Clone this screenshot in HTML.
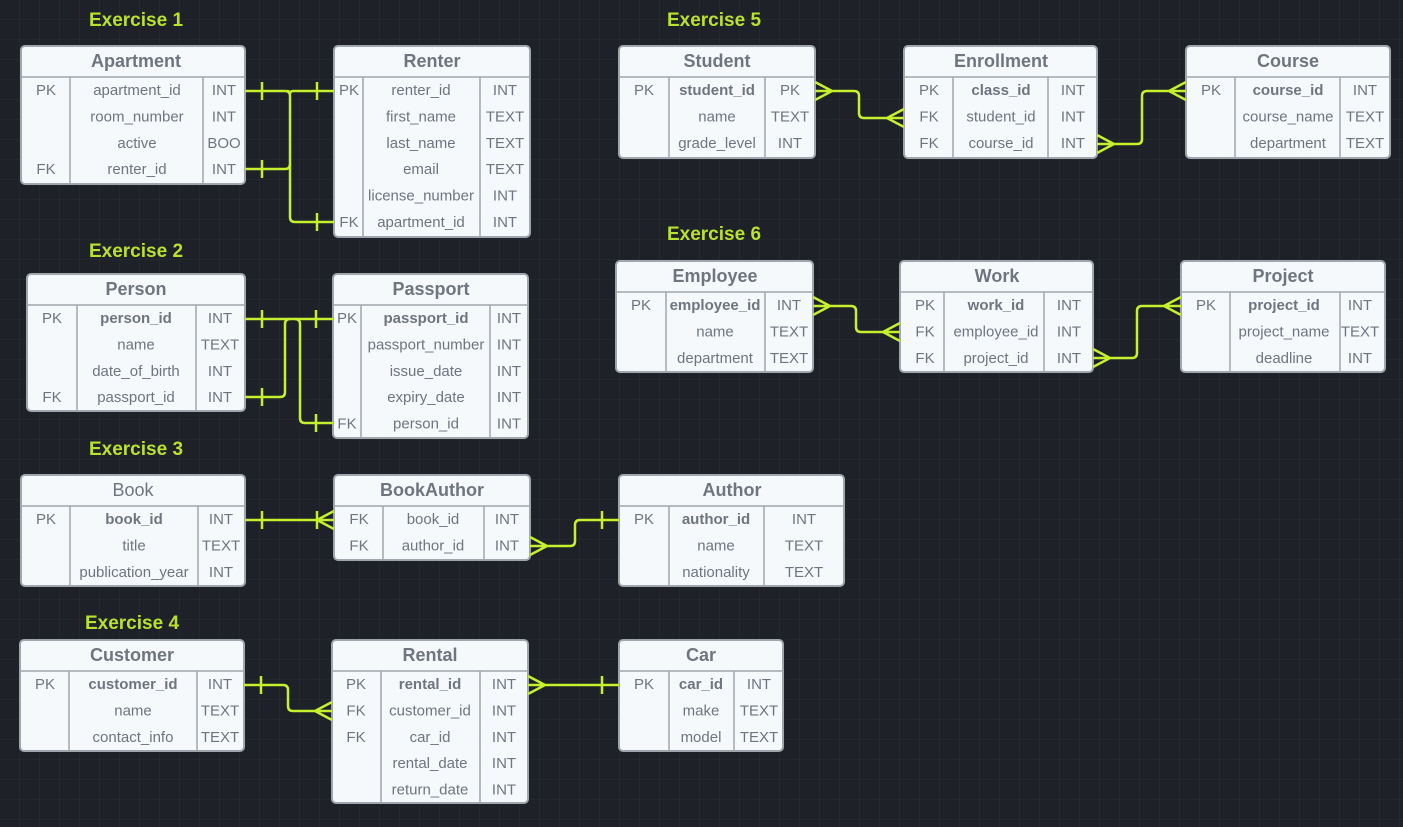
<!DOCTYPE html>
<html><head><meta charset="utf-8"><style>
html,body{margin:0;padding:0;background:#1e2127;}
svg{display:block}
text{font-family:"Liberation Sans",sans-serif;fill:#6e7580;}
.t{font-size:18px;font-weight:bold;text-anchor:middle}
.r{font-size:15px;text-anchor:middle}
.b{font-weight:bold}
.e{font-size:19px;font-weight:bold;fill:#b9e22c;text-anchor:middle}
.box{fill:#f5f9fc;stroke:#a0a6ad;stroke-width:2}
.ln{stroke:#a0a6ad;stroke-width:1.5}
.c{stroke:#c5f02e;stroke-width:2.5;fill:none;stroke-linejoin:round}
</style></head><body>
<svg width="1403" height="827" xmlns="http://www.w3.org/2000/svg">
<defs><pattern id="g" width="20" height="20" patternUnits="userSpaceOnUse"><path d="M20 0V20M0 20H20" stroke="#2a2e35" stroke-width="1" fill="none"/></pattern></defs>
<rect width="1403" height="827" fill="#1e2127"/>
<rect width="1403" height="827" fill="url(#g)"/>

<text class="e" x="136" y="26">Exercise 1</text>
<text class="e" x="136" y="257">Exercise 2</text>
<text class="e" x="136" y="455">Exercise 3</text>
<text class="e" x="132" y="629">Exercise 4</text>
<text class="e" x="714" y="26">Exercise 5</text>
<text class="e" x="714" y="240">Exercise 6</text>

<!-- Apartment -->
<rect class="box" x="21" y="46" width="224" height="138" rx="4"/>
<line class="ln" x1="21" y1="77" x2="245" y2="77"/><line class="ln" x1="70" y1="77" x2="70" y2="184"/><line class="ln" x1="203" y1="77" x2="203" y2="184"/>
<text class="t" x="136" y="67">Apartment</text>
<text class="r" x="46" y="95">PK</text><text class="r" x="137" y="95">apartment_id</text><text class="r" x="224" y="95">INT</text>
<text class="r" x="137" y="121.5">room_number</text><text class="r" x="224" y="121.5">INT</text>
<text class="r" x="137" y="148">active</text><text class="r" x="224" y="148">BOO</text>
<text class="r" x="46" y="174">FK</text><text class="r" x="137" y="174">renter_id</text><text class="r" x="224" y="174">INT</text>

<!-- Renter -->
<rect class="box" x="334" y="46" width="196" height="191" rx="4"/>
<line class="ln" x1="334" y1="77" x2="530" y2="77"/><line class="ln" x1="363" y1="77" x2="363" y2="237"/><line class="ln" x1="480" y1="77" x2="480" y2="237"/>
<text class="t" x="432" y="67">Renter</text>
<text class="r" x="349" y="95">PK</text><text class="r" x="421" y="95">renter_id</text><text class="r" x="505" y="95">INT</text>
<text class="r" x="421" y="121.5">first_name</text><text class="r" x="505" y="121.5">TEXT</text>
<text class="r" x="421" y="148">last_name</text><text class="r" x="505" y="148">TEXT</text>
<text class="r" x="421" y="174">email</text><text class="r" x="505" y="174">TEXT</text>
<text class="r" x="421" y="200.5">license_number</text><text class="r" x="505" y="200.5">INT</text>
<text class="r" x="349" y="227">FK</text><text class="r" x="421" y="227">apartment_id</text><text class="r" x="505" y="227">INT</text>

<!-- Person -->
<rect class="box" x="27" y="274" width="218" height="137" rx="4"/>
<line class="ln" x1="27" y1="305" x2="245" y2="305"/><line class="ln" x1="77" y1="305" x2="77" y2="411"/><line class="ln" x1="196" y1="305" x2="196" y2="411"/>
<text class="t" x="136" y="295">Person</text>
<text class="r" x="52" y="323">PK</text><text class="r b" x="136" y="323">person_id</text><text class="r" x="220" y="323">INT</text>
<text class="r" x="136" y="349.5">name</text><text class="r" x="220" y="349.5">TEXT</text>
<text class="r" x="136" y="376">date_of_birth</text><text class="r" x="220" y="376">INT</text>
<text class="r" x="52" y="402">FK</text><text class="r" x="136" y="402">passport_id</text><text class="r" x="220" y="402">INT</text>

<!-- Passport -->
<rect class="box" x="333" y="274" width="195" height="164" rx="4"/>
<line class="ln" x1="333" y1="305" x2="528" y2="305"/><line class="ln" x1="361" y1="305" x2="361" y2="438"/><line class="ln" x1="490" y1="305" x2="490" y2="438"/>
<text class="t" x="431" y="295">Passport</text>
<text class="r" x="347" y="323">PK</text><text class="r b" x="426" y="323">passport_id</text><text class="r" x="509" y="323">INT</text>
<text class="r" x="426" y="349.5">passport_number</text><text class="r" x="509" y="349.5">INT</text>
<text class="r" x="426" y="376">issue_date</text><text class="r" x="509" y="376">INT</text>
<text class="r" x="426" y="402">expiry_date</text><text class="r" x="509" y="402">INT</text>
<text class="r" x="347" y="428.5">FK</text><text class="r" x="426" y="428.5">person_id</text><text class="r" x="509" y="428.5">INT</text>

<!-- Book -->
<rect class="box" x="21" y="475" width="224" height="111" rx="4"/>
<line class="ln" x1="21" y1="506" x2="245" y2="506"/><line class="ln" x1="70" y1="506" x2="70" y2="586"/><line class="ln" x1="198" y1="506" x2="198" y2="586"/>
<text class="t" x="133" y="496" style="font-weight:normal">Book</text>
<text class="r" x="46" y="524">PK</text><text class="r b" x="134" y="524">book_id</text><text class="r" x="221" y="524">INT</text>
<text class="r" x="134" y="550.5">title</text><text class="r" x="221" y="550.5">TEXT</text>
<text class="r" x="134" y="577">publication_year</text><text class="r" x="221" y="577">INT</text>

<!-- BookAuthor -->
<rect class="box" x="334" y="475" width="196" height="85" rx="4"/>
<line class="ln" x1="334" y1="506" x2="530" y2="506"/><line class="ln" x1="383" y1="506" x2="383" y2="560"/><line class="ln" x1="484" y1="506" x2="484" y2="560"/>
<text class="t" x="432" y="496">BookAuthor</text>
<text class="r" x="359" y="524">FK</text><text class="r" x="433" y="524">book_id</text><text class="r" x="507" y="524">INT</text>
<text class="r" x="359" y="550.5">FK</text><text class="r" x="433" y="550.5">author_id</text><text class="r" x="507" y="550.5">INT</text>

<!-- Author -->
<rect class="box" x="619" y="475" width="225" height="111" rx="4"/>
<line class="ln" x1="619" y1="506" x2="844" y2="506"/><line class="ln" x1="669" y1="506" x2="669" y2="586"/><line class="ln" x1="764" y1="506" x2="764" y2="586"/>
<text class="t" x="732" y="496">Author</text>
<text class="r" x="644" y="524">PK</text><text class="r b" x="716" y="524">author_id</text><text class="r" x="804" y="524">INT</text>
<text class="r" x="716" y="550.5">name</text><text class="r" x="804" y="550.5">TEXT</text>
<text class="r" x="716" y="577">nationality</text><text class="r" x="804" y="577">TEXT</text>

<!-- Customer -->
<rect class="box" x="20" y="640" width="224" height="111" rx="4"/>
<line class="ln" x1="20" y1="671" x2="244" y2="671"/><line class="ln" x1="69" y1="671" x2="69" y2="751"/><line class="ln" x1="197" y1="671" x2="197" y2="751"/>
<text class="t" x="132" y="661">Customer</text>
<text class="r" x="45" y="689">PK</text><text class="r b" x="133" y="689">customer_id</text><text class="r" x="220" y="689">INT</text>
<text class="r" x="133" y="715.5">name</text><text class="r" x="220" y="715.5">TEXT</text>
<text class="r" x="133" y="742">contact_info</text><text class="r" x="220" y="742">TEXT</text>

<!-- Rental -->
<rect class="box" x="332" y="640" width="196" height="163" rx="4"/>
<line class="ln" x1="332" y1="671" x2="528" y2="671"/><line class="ln" x1="381" y1="671" x2="381" y2="803"/><line class="ln" x1="480" y1="671" x2="480" y2="803"/>
<text class="t" x="430" y="661">Rental</text>
<text class="r" x="356" y="689">PK</text><text class="r b" x="430" y="689">rental_id</text><text class="r" x="504" y="689">INT</text>
<text class="r" x="356" y="715.5">FK</text><text class="r" x="430" y="715.5">customer_id</text><text class="r" x="504" y="715.5">INT</text>
<text class="r" x="356" y="742">FK</text><text class="r" x="430" y="742">car_id</text><text class="r" x="504" y="742">INT</text>
<text class="r" x="430" y="768">rental_date</text><text class="r" x="504" y="768">INT</text>
<text class="r" x="430" y="794.5">return_date</text><text class="r" x="504" y="794.5">INT</text>

<!-- Car -->
<rect class="box" x="619" y="640" width="164" height="111" rx="4"/>
<line class="ln" x1="619" y1="671" x2="783" y2="671"/><line class="ln" x1="669" y1="671" x2="669" y2="751"/><line class="ln" x1="734" y1="671" x2="734" y2="751"/>
<text class="t" x="701" y="661">Car</text>
<text class="r" x="644" y="689">PK</text><text class="r b" x="701" y="689">car_id</text><text class="r" x="759" y="689">INT</text>
<text class="r" x="701" y="715.5">make</text><text class="r" x="759" y="715.5">TEXT</text>
<text class="r" x="701" y="742">model</text><text class="r" x="759" y="742">TEXT</text>

<!-- Student -->
<rect class="box" x="619" y="46" width="196" height="112" rx="4"/>
<line class="ln" x1="619" y1="77" x2="815" y2="77"/><line class="ln" x1="669" y1="77" x2="669" y2="158"/><line class="ln" x1="765" y1="77" x2="765" y2="158"/>
<text class="t" x="717" y="67">Student</text>
<text class="r" x="644" y="95">PK</text><text class="r b" x="717" y="95">student_id</text><text class="r" x="790" y="95">PK</text>
<text class="r" x="717" y="121.5">name</text><text class="r" x="790" y="121.5">TEXT</text>
<text class="r" x="717" y="148">grade_level</text><text class="r" x="790" y="148">INT</text>

<!-- Enrollment -->
<rect class="box" x="904" y="46" width="193" height="112" rx="4"/>
<line class="ln" x1="904" y1="77" x2="1097" y2="77"/><line class="ln" x1="953" y1="77" x2="953" y2="158"/><line class="ln" x1="1048" y1="77" x2="1048" y2="158"/>
<text class="t" x="1001" y="67">Enrollment</text>
<text class="r" x="929" y="95">PK</text><text class="r b" x="1001" y="95">class_id</text><text class="r" x="1073" y="95">INT</text>
<text class="r" x="929" y="121.5">FK</text><text class="r" x="1001" y="121.5">student_id</text><text class="r" x="1073" y="121.5">INT</text>
<text class="r" x="929" y="148">FK</text><text class="r" x="1001" y="148">course_id</text><text class="r" x="1073" y="148">INT</text>

<!-- Course -->
<rect class="box" x="1186" y="46" width="204" height="112" rx="4"/>
<line class="ln" x1="1186" y1="77" x2="1390" y2="77"/><line class="ln" x1="1235" y1="77" x2="1235" y2="158"/><line class="ln" x1="1340" y1="77" x2="1340" y2="158"/>
<text class="t" x="1288" y="67">Course</text>
<text class="r" x="1211" y="95">PK</text><text class="r b" x="1288" y="95">course_id</text><text class="r" x="1365" y="95">INT</text>
<text class="r" x="1288" y="121.5">course_name</text><text class="r" x="1365" y="121.5">TEXT</text>
<text class="r" x="1288" y="148">department</text><text class="r" x="1365" y="148">TEXT</text>

<!-- Employee -->
<rect class="box" x="616" y="261" width="197" height="111" rx="4"/>
<line class="ln" x1="616" y1="292" x2="813" y2="292"/><line class="ln" x1="666" y1="292" x2="666" y2="372"/><line class="ln" x1="765" y1="292" x2="765" y2="372"/>
<text class="t" x="715" y="282">Employee</text>
<text class="r" x="641" y="310">PK</text><text class="r b" x="715" y="310">employee_id</text><text class="r" x="789" y="310">INT</text>
<text class="r" x="715" y="336.5">name</text><text class="r" x="789" y="336.5">TEXT</text>
<text class="r" x="715" y="363">department</text><text class="r" x="789" y="363">TEXT</text>

<!-- Work -->
<rect class="box" x="900" y="261" width="193" height="111" rx="4"/>
<line class="ln" x1="900" y1="292" x2="1093" y2="292"/><line class="ln" x1="944" y1="292" x2="944" y2="372"/><line class="ln" x1="1044" y1="292" x2="1044" y2="372"/>
<text class="t" x="997" y="282">Work</text>
<text class="r" x="925" y="310">PK</text><text class="r b" x="996" y="310">work_id</text><text class="r" x="1069" y="310">INT</text>
<text class="r" x="925" y="336.5">FK</text><text class="r" x="996" y="336.5">employee_id</text><text class="r" x="1069" y="336.5">INT</text>
<text class="r" x="925" y="363">FK</text><text class="r" x="996" y="363">project_id</text><text class="r" x="1069" y="363">INT</text>

<!-- Project -->
<rect class="box" x="1181" y="261" width="204" height="111" rx="4"/>
<line class="ln" x1="1181" y1="292" x2="1385" y2="292"/><line class="ln" x1="1230" y1="292" x2="1230" y2="372"/><line class="ln" x1="1340" y1="292" x2="1340" y2="372"/>
<text class="t" x="1283" y="282">Project</text>
<text class="r" x="1206" y="310">PK</text><text class="r b" x="1284" y="310">project_id</text><text class="r" x="1360" y="310">INT</text>
<text class="r" x="1284" y="336.5">project_name</text><text class="r" x="1360" y="336.5">TEXT</text>
<text class="r" x="1284" y="363">deadline</text><text class="r" x="1360" y="363">INT</text>

<!-- Connectors -->
<g class="c">
<!-- Ex1 -->
<path d="M245 91H285Q290 91 290 96V217Q290 222 295 222H334"/>
<path d="M245 169H285Q290 169 290 164"/>
<path d="M287 91Q290 91 290 94M290 94Q290 91 293 91H334"/>
<path d="M262 82V100M262 160V178M317 82V100M317 213V231"/>
<!-- Ex2 -->
<path d="M245 319H333"/>
<path d="M245 397H280Q285 397 285 392V324Q285 319 290 319"/>
<path d="M333 423H305Q300 423 300 418V324Q300 319 295 319"/>
<path d="M262 310V328M316 310V328M262 388V406M316 414V432"/>
<!-- Ex3 -->
<path d="M245 520H334M317 520L334 511M317 520L334 529M262 511V529M317 511V529"/>
<path d="M530 546H570Q575 546 575 541V525Q575 520 580 520H619M547 546L530 537M547 546L530 555M602 511V529"/>
<!-- Ex4 -->
<path d="M244 685H283Q288 685 288 690V706Q288 711 293 711H332M315 711L332 702M315 711L332 720M261 676V694"/>
<path d="M528 685H619M545 685L528 676M545 685L528 694M602 676V694"/>
<!-- Ex5 -->
<path d="M815 91H854Q859 91 859 96V113Q859 118 864 118H904M832 91L815 82M832 91L815 100M887 118L904 109M887 118L904 127"/>
<path d="M1097 144H1137Q1142 144 1142 139V96Q1142 91 1147 91H1186M1114 144L1097 135M1114 144L1097 153M1169 91L1186 82M1169 91L1186 100"/>
<!-- Ex6 -->
<path d="M813 306H851Q856 306 856 311V327Q856 332 861 332H900M830 306L813 297M830 306L813 315M883 332L900 323M883 332L900 341"/>
<path d="M1093 358H1132Q1137 358 1137 353V311Q1137 306 1142 306H1181M1110 358L1093 349M1110 358L1093 367M1164 306L1181 297M1164 306L1181 315"/>
</g>
</svg>
</body></html>
